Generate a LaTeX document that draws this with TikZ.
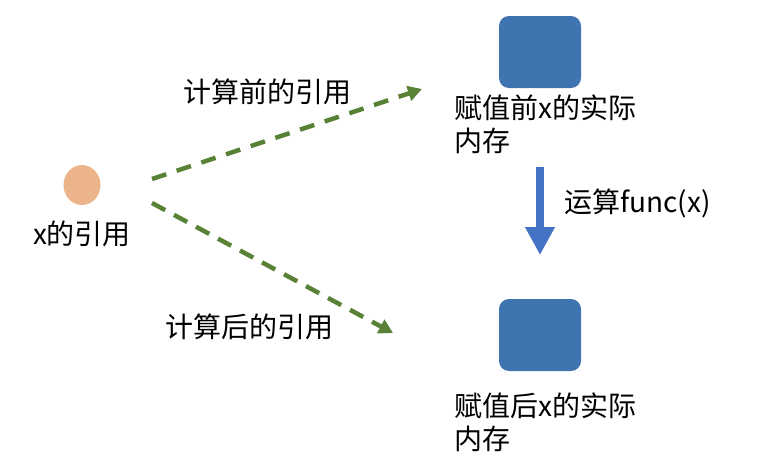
\documentclass[tikz,border=0pt]{standalone}
\usepackage{fontspec}
\setmainfont{Noto Sans CJK SC}
\usetikzlibrary{arrows.meta,shapes.geometric}
\definecolor{dotc}{HTML}{EBB48A}
\definecolor{boxc}{HTML}{3F74B0}
\definecolor{arrc}{HTML}{4472C4}
\definecolor{grn}{HTML}{5A8236}
\tikzset{
  lbl/.style={font=\fontsize{28}{33}\selectfont, inner sep=0pt},
  membox/.style={fill=boxc, draw=none, rounded corners=10pt, minimum width=82pt, minimum height=72pt, inner sep=0pt},
  refline/.style={draw=grn, line width=4.5pt, dash pattern=on 15pt off 11pt, -{Triangle[length=14pt,width=15pt]}},
  oparrow/.style={draw=arrc, line width=8pt, -{Triangle[length=28pt,width=28pt]}}
}
\begin{document}
\begin{tikzpicture}[x=1pt,y=-1pt]
\useasboundingbox (0,0) rectangle (775,471);
\node[ellipse, fill=dotc, minimum width=37pt, minimum height=40pt, inner sep=0pt] (dot) at (82,185) {};
\node[lbl] (xref) at (82,234) {x的引用};
\node[membox] (b1) at (540,52) {};
\node[membox] (b2) at (540,335) {};
\node[lbl, align=left, anchor=north west] (t1) at (454,95) {赋值前x的实际\\内存};
\node[lbl, align=left, anchor=north west] (t2) at (454,393) {赋值后x的实际\\内存};
\node[lbl] (lpre) at (267,92) {计算前的引用};
\node[lbl] (lpost) at (249,327) {计算后的引用};
\node[lbl, anchor=west] (lfunc) at (564,203) {运算func(x)};
\coordinate (s1) at (152,179);
\coordinate (e1) at (422,89);
\coordinate (s2) at (152,203);
\coordinate (e2) at (393,333);
\coordinate (as) at (540,167);
\coordinate (ae) at (540,255);
\draw[refline] (s1) -- (e1);
\draw[refline, dash pattern=on 15pt off 10pt] (s2) -- (e2);
\draw[oparrow] (as) -- (ae);
\end{tikzpicture}
\end{document}
